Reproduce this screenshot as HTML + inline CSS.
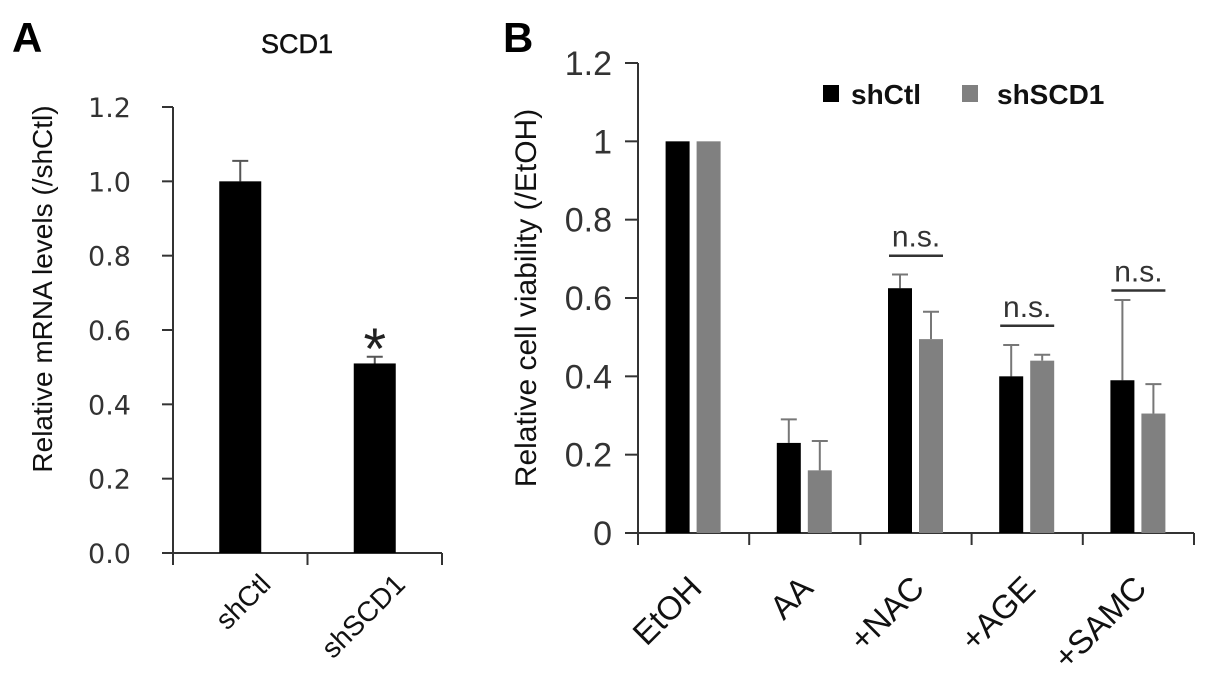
<!DOCTYPE html>
<html><head><meta charset="utf-8"><style>
html,body{margin:0;padding:0;background:#fff;}
svg{display:block;font-family:"Liberation Sans",sans-serif;}
</style></head><body>
<svg id="fig" width="1205" height="690" viewBox="0 0 1205 690">
<g id="pa"></g>
<g id="pb"></g>
</svg>
<script>
// Panel A data
const aCategories = ["shCtl", "shSCD1"];
const aValues = [1.0, 0.51];
const aErrors = [0.055, 0.018];
const aTicks = ["0.0","0.2","0.4","0.6","0.8","1.0","1.2"];
// Panel B data
const bCategories = ["EtOH","AA","+NAC","+AGE","+SAMC"];
const bShCtl = [1.0, 0.23, 0.625, 0.40, 0.39];
const bShSCD1 = [1.0, 0.16, 0.495, 0.44, 0.305];
const bShCtlErr = [0, 0.06, 0.035, 0.08, 0.205];
const bShSCD1Err = [0, 0.075, 0.07, 0.015, 0.075];
const bTicks = ["0","0.2","0.4","0.6","0.8","1","1.2"];
const bNsGroups = [2, 3, 4];
const bNsLevel = [0.708, 0.529, 0.619];

const NS = "http://www.w3.org/2000/svg";
function mk(parent, tag, attrs, text){
  const e = document.createElementNS(NS, tag);
  for (const k in attrs) e.setAttribute(k, attrs[k]);
  if (text !== undefined) e.textContent = text;
  parent.appendChild(e);
  return e;
}

// ---------- Panel A ----------
(function(){
  const g = document.getElementById('pa');
  const x0 = 173, x1 = 442, yBase = 553, yTop = 107;
  const yA = v => yBase - (v / 1.2) * (yBase - yTop);
  const band = (x1 - x0) / aCategories.length;
  const cx = i => x0 + band * (i + 0.5);
  let t = mk(g,'text',{x:12,y:52,'font-size':42,'font-weight':'bold',fill:'#000'},'A');
   
  t = mk(g,'text',{x:297,y:53,'font-size':27,'text-anchor':'middle',fill:'#111',stroke:'#111','stroke-width':0.5},'SCD1');
   
  t = mk(g,'text',{x:0,y:0,'font-size':28,'text-anchor':'middle',fill:'#111',transform:'translate(52,289) rotate(-90)'},'Relative mRNA levels (/shCtl)');
   
  let ax = mk(g,'line',{x1:x0,y1:yTop,x2:x0,y2:yBase,stroke:'#333','stroke-width':2});
   
  ax = mk(g,'line',{x1:162,y1:yBase,x2:x1,y2:yBase,stroke:'#333','stroke-width':2});
   
  aTicks.forEach((lab,i)=>{
    const v = parseFloat(lab), y = yA(v);
    const tk = mk(g,'line',{x1:162,y1:y,x2:x0,y2:y,stroke:'#333','stroke-width':2});
     
    const tl = mk(g,'text',{x:131,y:y+10,'font-size':27,'font-family':'DejaVu Sans,sans-serif','text-anchor':'end',fill:'#333'},lab);
     
  });
  for (let i=0;i<=aCategories.length;i++){
    const x = x0 + band*i;
    const tk = mk(g,'line',{x1:x,y1:yBase,x2:x,y2:yBase+12,stroke:'#333','stroke-width':2});
     
  }
  aCategories.forEach((c,i)=>{
    const x = cx(i), w = 42, yv = yA(aValues[i]), ye = yA(aValues[i]+aErrors[i]);
    const eb = mk(g,'path',{d:`M${x} ${yv} V${ye} M${x-8} ${ye} H${x+8}`,stroke:'#555','stroke-width':2,fill:'none'});
     
    const r = mk(g,'rect',{x:x-w/2,y:yv,width:w,height:yBase-yv,fill:'#000'});
     
    const tl = mk(g,'text',{x:0,y:0,'font-size':28,'text-anchor':'end',fill:'#111',transform:`translate(${x+32},${586}) rotate(-45)`},c);
     
  });
  const st = mk(g,'text',{x:cx(1),y:yA(aValues[1]+aErrors[1])+12,'font-size':58,'text-anchor':'middle',fill:'#222'},'*');
   
})();

// ---------- Panel B ----------
(function(){
  const g = document.getElementById('pb');
  const x0 = 638, x1 = 1194, yBase = 533, yTop = 63;
  const yB = v => yBase - (v / 1.2) * (yBase - yTop);
  const band = (x1 - x0) / bCategories.length;
  const cx = i => x0 + band * (i + 0.5);
  let t = mk(g,'text',{x:503,y:52,'font-size':42,'font-weight':'bold',fill:'#000'},'B');
   
  t = mk(g,'text',{x:0,y:0,'font-size':30,'text-anchor':'middle',fill:'#111',transform:'translate(536,298) rotate(-90)'},'Relative cell viability (/EtOH)');
   
  let ax = mk(g,'line',{x1:x0,y1:yTop,x2:x0,y2:yBase,stroke:'#333','stroke-width':2});
   
  ax = mk(g,'line',{x1:625,y1:yBase,x2:x1,y2:yBase,stroke:'#333','stroke-width':2});
   
  bTicks.forEach(lab=>{
    const y = yB(parseFloat(lab));
    const tk = mk(g,'line',{x1:625,y1:y,x2:x0,y2:y,stroke:'#333','stroke-width':2});
     
    const tl = mk(g,'text',{x:612,y:y+12,'font-size':34,'text-anchor':'end',fill:'#333'},lab);
     
  });
  for (let i=0;i<=bCategories.length;i++){
    const x = x0 + band*i;
    const tk = mk(g,'line',{x1:x,y1:yBase,x2:x,y2:yBase+12,stroke:'#333','stroke-width':2});
     
  }
  const w = 24;
  bCategories.forEach((c,i)=>{
    const c0 = cx(i);
    [[bShCtl,bShCtlErr,'#000',-16,'shctl'],[bShSCD1,bShSCD1Err,'#808080',15,'shscd1']].forEach(s=>{
      const x = c0 + s[3], v = s[0][i], e = s[1][i], yv = yB(v), ye = yB(v+e);
      if (e > 0){
        const eb = mk(g,'path',{d:`M${x} ${yv} V${ye} M${x-8} ${ye} H${x+8}`,stroke:'#777','stroke-width':2,fill:'none'});
         
      }
      const r = mk(g,'rect',{x:x-w/2,y:yv,width:w,height:yBase-yv,fill:s[2]});
       
    });
    const tl = mk(g,'text',{x:0,y:0,'font-size':33,'text-anchor':'end',fill:'#111',transform:`translate(${c0+10},${590}) rotate(-45)`},c);
     
  });
  bNsGroups.forEach((gi,k)=>{
    const c0 = cx(gi), y = yB(bNsLevel[k]);
    const ln = mk(g,'line',{x1:c0-27,y1:y,x2:c0+27,y2:y,stroke:'#333','stroke-width':2.5});
     
    const tx = mk(g,'text',{x:c0,y:y-9,'font-size':30,'text-anchor':'middle',fill:'#333'},'n.s.');
     
  });
  const lg = mk(g,'g',{});
   
  let sq = mk(lg,'rect',{x:823,y:85,width:16,height:17,fill:'#000'});
   
  let lt = mk(lg,'text',{x:851,y:104,'font-size':28,'font-weight':'bold',fill:'#111'},'shCtl');
   
  sq = mk(lg,'rect',{x:962,y:85,width:16,height:17,fill:'#808080'});
   
  lt = mk(lg,'text',{x:997,y:104,'font-size':28,'font-weight':'bold',fill:'#111'},'shSCD1');
   
})();
</script>
</body></html>
